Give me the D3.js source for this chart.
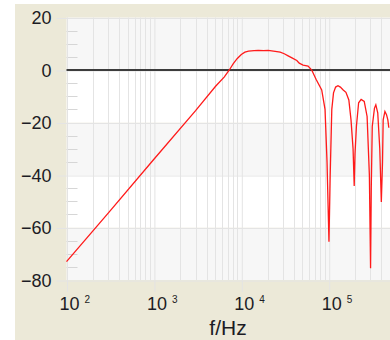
<!DOCTYPE html>
<html lang="en">
<head>
    <meta charset="UTF-8">
    <title>Frequency response</title>
    <script src="https://d3js.org/d3.v7.min.js"></script>
    <style>
        body { margin: 0; background: #fff; }
        .lbl { font-family: "Liberation Sans", Arial, sans-serif; fill: #1c1c24; }
        .axis path { display: none; }
        .grid line { stroke: #e4e4e4; }
    </style>
</head>
<body>
<script>
    // frequency (Hz) and gain (dB)
    const freqs = [100, 300, 1000, 3000, 5080, 6400, 7290, 8100, 9000, 10000,
        11000, 12110, 14000, 15630, 18000, 20320, 24420, 27860, 31000, 34370,
        38000, 43150, 46000, 50930, 58070, 63980, 71640, 83180, 90780, 95700,
        100700, 104000, 108500, 113500, 120000, 127700, 136000, 146500, 157500, 170000,
        180000, 190000, 195800, 200000, 207500, 220000, 235000, 255000, 275000, 292000,
        301300, 307000, 315000, 334000, 346100, 364000, 384000, 400000, 412900, 420000,
        440000, 458600, 475000, 487500];
    const gainDb = [-73, -54.5, -34, -15.5, -6.2, -2.6, 0, 2.4, 4.4, 5.9,
        6.8, 7.2, 7.4, 7.5, 7.4, 7.5, 7.1, 6.8, 6.2, 5.4,
        4.6, 3.6, 2.6, 1.9, 1.5, 0, -3.5, -7.6, -15, -35,
        -65.4, -40, -15, -8.7, -6.5, -6, -6.5, -7.6, -8.5, -11.4,
        -19, -30, -44.2, -32, -21.5, -12.5, -11.2, -12, -17.7, -40,
        -75.5, -45, -21.5, -14.5, -13.3, -16.3, -30, -50.3, -35, -19,
        -15.8, -17, -19, -22];
    const yTicks = [20, 0, -20, -40, -60, -80];
    const yMinor = d3.range(-80, 20, 5).filter(v => v % 20 !== 0);
    const xDecades = [100, 1000, 10000, 100000];
    const xExp = [2, 3, 4, 5];

    const W = 390, H = 340;
    const plot = {left: 66.5, top: 17.5, bottom: 280};

    const svg = d3.select("body").append("svg")
        .attr("width", W)
        .attr("height", H);

    // outer panel
    svg.append("rect")
        .attr("x", 15).attr("y", 4)
        .attr("width", W - 15).attr("height", H - 4)
        .attr("fill", "#ece9d8");

    const x = d3.scaleLog()
        .domain([100, 1000000])
        .range([plot.left, plot.left + 4 * 87.4]);
    const y = d3.scaleLinear()
        .domain([-80, 20])
        .range([plot.bottom, plot.top]);

    const right = x(1000000);

    // background bands
    svg.selectAll("rect.band")
        .data(d3.range(-80, 20, 20))
        .enter()
        .append("rect")
        .attr("class", "band")
        .attr("x", plot.left)
        .attr("y", d => y(d + 20))
        .attr("width", right - plot.left)
        .attr("height", d => y(d) - y(d + 20))
        .attr("fill", d => ((d + 80) / 20) % 2 === 0 ? "#f7f7f7" : "#ffffff");

    // minor vertical grid
    svg.append("g")
        .attr("class", "grid")
        .selectAll("line")
        .data(x.ticks().filter(d => !xDecades.includes(d)))
        .enter()
        .append("line")
        .attr("x1", d => Math.round(x(d)) + 0.5)
        .attr("x2", d => Math.round(x(d)) + 0.5)
        .attr("y1", plot.top)
        .attr("y2", plot.bottom);

    // x axis: decade lines reach below the plot
    const xAxis = svg.append("g")
        .attr("class", "axis grid")
        .attr("transform", `translate(0.5,${plot.bottom + 12})`)
        .call(d3.axisBottom(x)
            .tickValues(xDecades)
            .tickSize(-(plot.bottom + 12 - plot.top))
            .tickFormat(() => ""));

    xAxis.selectAll(".tick").each(function(d, i) {
        const t = d3.select(this).append("text")
            .attr("class", "lbl")
            .attr("fill", null)
            .attr("text-anchor", "start")
            .attr("x", -8)
            .attr("y", 18)
            .attr("dy", null)
            .style("font-size", "18px");
        t.append("tspan").text("10");
        t.append("tspan")
            .attr("dx", 5)
            .attr("dy", -7)
            .style("font-size", "10px")
            .text(xExp[i]);
    });

    // y axis: gridlines reach left of the plot
    const yAxis = svg.append("g")
        .attr("class", "axis grid")
        .attr("transform", `translate(${plot.left - 10},0.5)`)
        .call(d3.axisLeft(y)
            .tickValues(yTicks)
            .tickSize(-(right - plot.left + 10))
            .tickPadding(5)
            .tickFormat(d3.format("d")));

    yAxis.selectAll("text")
        .attr("class", "lbl")
        .attr("fill", null)
        .style("font-size", "18px");

    // short minor ticks inside the left edge
    svg.append("g")
        .selectAll("line")
        .data(yMinor)
        .enter()
        .append("line")
        .attr("x1", plot.left)
        .attr("x2", plot.left + 11)
        .attr("y1", d => Math.round(y(d)) + 0.5)
        .attr("y2", d => Math.round(y(d)) + 0.5)
        .attr("stroke", "#d6d6d6");

    // left border of the plot
    svg.append("line")
        .attr("x1", Math.round(plot.left) + 0.5)
        .attr("x2", Math.round(plot.left) + 0.5)
        .attr("y1", plot.top)
        .attr("y2", plot.bottom)
        .attr("stroke", "#e4e4e4");

    // zero line
    svg.append("line")
        .attr("x1", plot.left)
        .attr("x2", right)
        .attr("y1", y(0))
        .attr("y2", y(0))
        .attr("stroke", "#3c3c3c")
        .attr("stroke-width", 2);

    // response curve
    const line = d3.line()
        .x((d, i) => x(freqs[i]))
        .y(d => y(d));

    svg.append("path")
        .datum(gainDb)
        .attr("fill", "none")
        .attr("stroke", "#ff1a1a")
        .attr("stroke-width", 1.3)
        .attr("d", line);

    // axis title
    svg.append("text")
        .attr("class", "lbl")
        .attr("x", 228)
        .attr("y", 335)
        .attr("text-anchor", "middle")
        .style("font-size", "21px")
        .text("f/Hz");
</script>
</body>
</html>
